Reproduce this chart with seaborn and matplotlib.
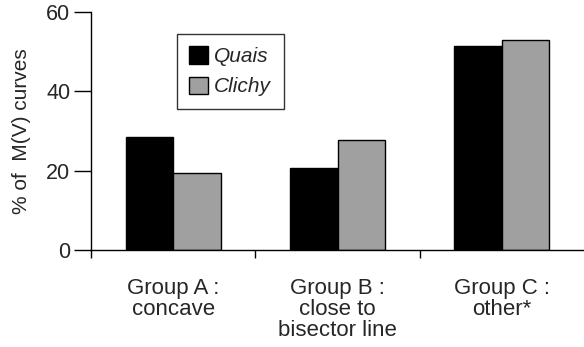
import matplotlib
matplotlib.use("Agg")
import matplotlib.pyplot as plt
import seaborn as sns
import pandas as pd
from matplotlib.patches import Patch

# data
groups = ["Group A :\nconcave", "Group B :\nclose to\nbisector line", "Group C :\nother*"]
quais = [28.4, 20.6, 51.5]
clichy = [19.5, 27.7, 52.9]
sites = ["Quais", "Clichy"]

df = pd.DataFrame({
    "group": groups * 2,
    "site": [sites[0]] * 3 + [sites[1]] * 3,
    "pct": quais + clichy,
})

sns.set_style("white")
plt.rcParams["font.family"] = ["Liberation Sans", "DejaVu Sans"]

fig = plt.figure(figsize=(5.84, 3.47), dpi=100)
ax = fig.add_axes([91 / 584, 1 - 250 / 347, 1 - 91 / 584, (250 - 12) / 347])

colors = {"Quais": "#000000", "Clichy": "#a0a0a0"}
sns.barplot(data=df, x="group", y="pct", hue="site", palette=colors,
            width=0.58, edgecolor="black", linewidth=1, saturation=1,
            legend=False, ax=ax)

ax.set_xlim(-0.5, 2.5)
ax.set_ylim(0, 60)
ax.set_yticks([0, 20, 40, 60])
ax.set_xlabel("")
ax.set_ylabel("% of  M(V) curves", fontsize=15, labelpad=11)

for s in ["top", "right"]:
    ax.spines[s].set_visible(False)
for s in ["left", "bottom"]:
    ax.spines[s].set_color("black")
    ax.spines[s].set_linewidth(1)

ax.tick_params(axis="y", direction="out", length=12, width=1, color="black",
               labelsize=15.5, pad=3, left=True)
ax.set_xticks([-0.5, 0.5, 1.5], minor=True)
ax.tick_params(axis="x", which="major", length=0, labelsize=16, pad=20)
ax.tick_params(axis="x", which="minor", direction="out", length=6, width=1,
               color="black", bottom=True)
for lab in ax.get_xticklabels():
    lab.set_linespacing(1.0)

handles = [Patch(facecolor=colors[s], edgecolor="black", linewidth=1, label=s) for s in sites]
leg = ax.legend(handles=handles, loc="upper left", bbox_to_anchor=(0.174, 0.908),
                borderaxespad=0, fancybox=False, frameon=True, edgecolor="black",
                prop={"size": 15, "style": "italic"}, handlelength=0.9,
                handleheight=0.9, handletextpad=0.3, labelspacing=0.5,
                borderpad=0.6)
leg.get_frame().set_linewidth(1)

fig.savefig("out.png", dpi=100)
